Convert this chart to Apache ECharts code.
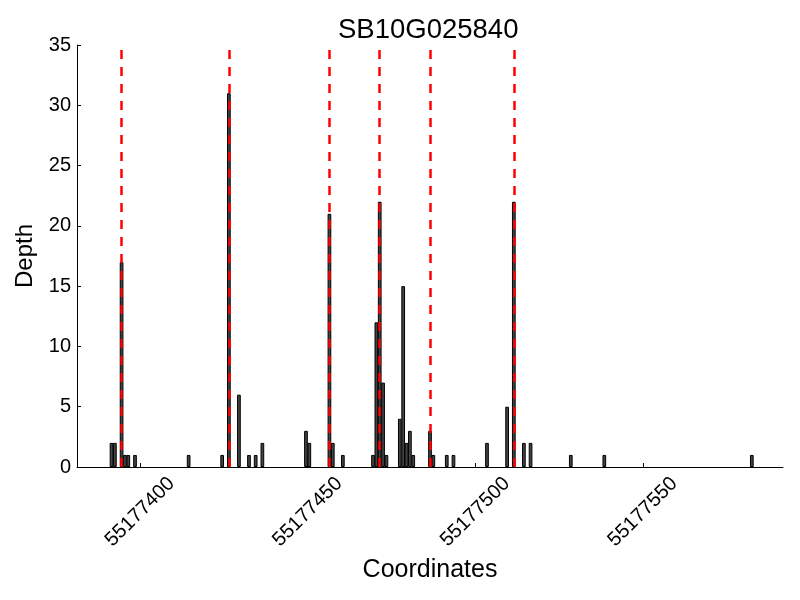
<!DOCTYPE html>
<html>
<head>
<meta charset="utf-8">
<script src="https://cdn.jsdelivr.net/npm/echarts@6/dist/echarts.min.js"></script>
<style>html,body{margin:0;padding:0;background:#fff}#c{width:800px;height:600px}</style>
</head>
<body>
<div id="c"></div>
<script>
// Data
const title = 'SB10G025840';
const positions = [55177391,55177392,55177394,55177395,55177396,55177398,55177414,55177424,55177426,55177429,
  55177432,55177434,55177436,55177449,55177450,55177456,55177457,55177460,55177469,55177470,
  55177471,55177472,55177473,55177477,55177478,55177479,55177480,55177481,55177486,55177487,
  55177491,55177493,55177503,55177509,55177511,55177514,55177516,55177528,55177538,55177582];
const depths = [2,2,17,1,1,1,1,1,31,6,
  1,1,2,3,2,21,2,1,1,12,
  22,7,1,4,15,2,3,1,3,1,
  1,1,2,5,22,2,2,1,1,1];
const snps = [55177394,55177426,55177456,55177471,55177486,55177511];
const xTicks = [55177400,55177450,55177500,55177550];
const xMin = 55177381.2, xMax = 55177591.8;

const font = 'Liberation Sans';
const chart = echarts.init(document.getElementById('c'), null, {renderer:'canvas'});
chart.setOption({
  animation: false,
  backgroundColor: '#fff',
  title: {text: title, left: 333, top: 11,
    textStyle: {fontFamily: font, fontSize: 27.5, fontWeight: 'normal', color: '#000'}},
  grid: {left: 77, right: 17, top: 45, bottom: 133},
  xAxis: {
    type: 'value', min: xMin, max: xMax,
    name: 'Coordinates', nameLocation: 'middle', nameGap: 88,
    nameTextStyle: {fontFamily: font, fontSize: 25, color: '#000'},
    axisLine: {show: true, onZero: false, lineStyle: {color: '#000', width: 1}},
    axisTick: {show: true, inside: true, length: 4, customValues: xTicks, lineStyle: {color: '#000'}},
    axisLabel: {show: true, customValues: xTicks, rotate: 45, margin: 45, align: 'center', verticalAlign: 'middle',
      formatter: v => String(Math.round(v)), fontFamily: font, fontSize: 20, color: '#000'},
    splitLine: {show: false}
  },
  yAxis: {
    type: 'value', min: 0, max: 35, interval: 5,
    name: 'Depth', nameLocation: 'middle', nameGap: 40, nameRotate: 90,
    nameTextStyle: {fontFamily: font, fontSize: 24, color: '#000'},
    axisLine: {show: true, lineStyle: {color: '#000', width: 1}},
    axisTick: {show: true, inside: true, length: 4, lineStyle: {color: '#000'}},
    axisLabel: {show: true, margin: 6, fontFamily: font, fontSize: 20, color: '#000'},
    splitLine: {show: false}
  },
  series: [
    {
      type: 'bar', barWidth: 3.7, barGap: '-100%',
      itemStyle: {color: '#444444', borderColor: '#000', borderWidth: 1},
      data: positions.map((p, i) => [p + 0.5, depths[i]]),
      z: 2
    },
    {
      type: 'line', data: [], z: 5,
      markLine: {
        silent: true, symbol: ['none','none'], label: {show: false},
        lineStyle: {color: '#ff0000', width: 2.5, type: [9, 8]},
        data: snps.map(s => ({xAxis: s + 0.5}))
      }
    }
  ]
});
</script>
</body>
</html>
